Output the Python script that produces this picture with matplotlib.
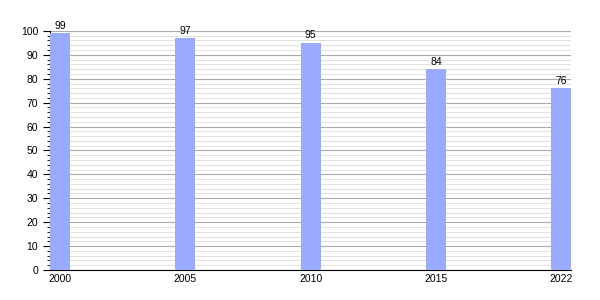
import matplotlib
matplotlib.use("Agg")
import matplotlib.pyplot as plt
from matplotlib.ticker import MultipleLocator

years = ["2000", "2005", "2010", "2015", "2022"]
values = [99, 97, 95, 84, 76]

fig = plt.figure(figsize=(6, 3), dpi=100)
ax = fig.add_axes([0.0833, 0.1, 0.8687, 0.797])

pos = range(len(years))
ax.bar(pos, values, width=0.16, color="#99aaff", zorder=3)
for x, v in zip(pos, values):
    ax.text(x, v + 1, str(v), ha="center", va="bottom", fontsize=7.5,
            family="Liberation Sans")

ax.set_xlim(-0.08, len(years) - 1 + 0.08)
ax.set_ylim(0, 100)
ax.set_xticks(list(pos))
ax.set_xticklabels(years)
ax.yaxis.set_major_locator(MultipleLocator(10))
ax.yaxis.set_minor_locator(MultipleLocator(2))
ax.grid(axis="y", which="major", color="#aaaaaa", linewidth=0.8, zorder=0)
ax.grid(axis="y", which="minor", color="#dddddd", linewidth=0.6, zorder=0)
ax.set_axisbelow(True)

for s in ["top", "right"]:
    ax.spines[s].set_visible(False)
ax.tick_params(axis="x", length=0, labelsize=7.5, pad=3)
ax.tick_params(axis="y", which="major", length=5, labelsize=7.5)
ax.tick_params(axis="y", which="minor", length=2.5)
for lab in ax.get_xticklabels() + ax.get_yticklabels():
    lab.set_family("Liberation Sans")

fig.savefig("out.png", dpi=100)
